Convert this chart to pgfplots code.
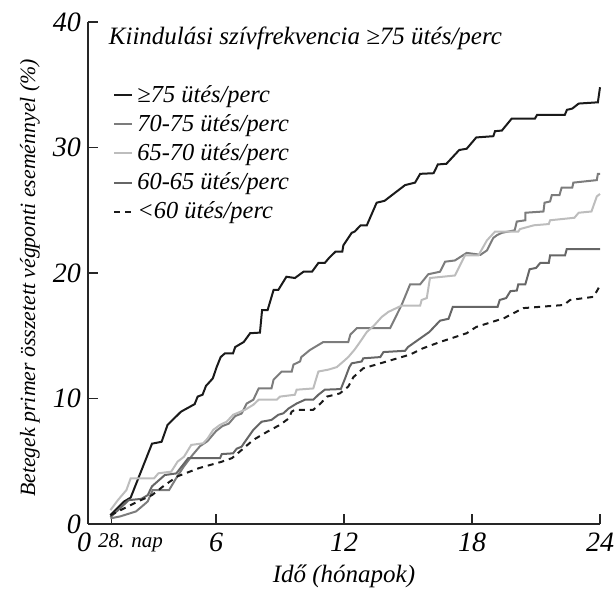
\documentclass[border=0pt]{standalone}
\usepackage{fontspec}
\setmainfont{Liberation Serif}
\usepackage{pgfplots}
\pgfplotsset{compat=1.18}

\definecolor{cA}{HTML}{1A1A1A}
\definecolor{cB}{HTML}{7C7C7C}
\definecolor{cC}{HTML}{BDBDBD}
\definecolor{cD}{HTML}{666666}

\begin{document}
\begin{tikzpicture}
\begin{axis}[
    scale only axis,
    width=256pt, height=251pt,
    xmin=0, xmax=24, ymin=0, ymax=40,
    axis x line=bottom, axis y line=left,
    axis line style={-, line width=0.8pt, black!85},
    tick align=inside,
    major tick length=5pt,
    tick style={line width=0.7pt, black!85},
    xtick={0,1.1,6,12,18,24},
    xticklabels={\hspace*{-4pt}0,{\hspace*{19pt}\fontsize{10.5}{10.5}\selectfont 28. nap},6,12,18,24},
    ytick={0,10,20,30,40},
    /pgf/number format/assume math mode=true,
    ticklabel style={font=\fontsize{14}{14}\selectfont\itshape},
    xticklabel style={yshift=-1pt},
    yticklabel style={xshift=0pt},
    xlabel={Idő (hónapok)},
    ylabel={Betegek primer összetett végponti eseménnyel (\%)},
    label style={font=\fontsize{12.5}{12.5}\selectfont\itshape},
    xlabel style={at={(rel axis cs:0.5,0)}, anchor=center, yshift=-26pt},
    ylabel style={at={(rel axis cs:0,0.49)}, anchor=center, yshift=29pt, font=\fontsize{10.9}{10.9}\selectfont\itshape},
    clip=false,
    legend cell align=left,
    legend style={draw=none, fill=none, at={(rel axis cs:0.045,0.887)}, anchor=north west,
        font=\fontsize{12.2}{12.2}\selectfont\itshape, row sep=0.6pt, inner sep=1pt},
    legend image code/.code={\draw[#1] (0pt,0pt) -- (9pt,0pt);},
]
\coordinate (bl) at (rel axis cs:0,0);
\coordinate (tr) at (rel axis cs:1,1);
\node[anchor=west, font=\fontsize{12.5}{12.5}\selectfont\itshape, inner sep=0pt] at (rel axis cs:0.04,0.968) {Kiindulási szívfrekvencia ≥75 ütés/perc};

\addplot[cA, line width=1pt] coordinates {
(1.05,0.7)(1.7,1.8)(2.0,2.1)(3.0,6.4)(3.45,6.55)(3.73,7.9)(4.36,8.95)(5.0,9.55)(5.14,10.15)(5.37,10.3)(5.53,11.0)(5.85,11.6)(6.03,12.5)(6.22,13.3)(6.42,13.6)(6.8,13.6)(6.9,14.1)(7.3,14.5)(7.6,15.2)(8.06,15.25)(8.16,17.05)(8.42,17.05)(8.7,18.65)(8.92,18.65)(9.3,19.7)(9.7,19.6)(10.1,20.1)(10.5,20.1)(10.8,20.8)(11.1,20.8)(11.3,21.2)(11.6,21.7)(11.92,21.7)(11.97,22.2)(12.36,23.2)(12.5,23.3)(12.78,23.8)(13.07,23.8)(13.53,25.6)(13.9,25.75)(14.86,27.0)(15.33,27.2)(15.57,27.9)(16.2,27.95)(16.4,28.65)(16.8,28.7)(17.4,29.8)(17.75,29.9)(18.2,30.8)(19.0,30.9)(19.08,31.3)(19.4,31.35)(19.86,32.3)(20.95,32.3)(21.05,32.6)(22.35,32.6)(22.45,33.0)(22.7,33.1)(23.0,33.5)(23.9,33.6)(24.0,34.8)
};
\addlegendentry{≥75 ütés/perc}

\addplot[cB, line width=1pt] coordinates {
(1.05,0.45)(1.5,0.6)(2.25,1.0)(2.6,1.5)(2.8,1.8)(3.03,2.7)(3.8,2.7)(4.13,3.64)(4.5,4.6)(4.9,5.5)(5.25,6.2)(5.6,6.6)(6.0,7.4)(6.3,7.8)(6.6,8.0)(6.9,8.6)(7.2,8.8)(7.44,9.6)(7.75,9.9)(8.0,10.8)(8.6,10.8)(8.7,11.5)(9.08,12.15)(9.55,12.15)(9.63,12.7)(9.94,12.95)(10.0,13.3)(10.4,13.86)(11.03,14.5)(12.2,14.5)(12.3,15.1)(12.6,15.6)(14.16,15.6)(14.7,17.45)(15.1,19.1)(15.57,19.1)(15.95,19.9)(16.5,20.1)(16.74,20.9)(17.2,21.0)(17.75,21.6)(18.4,21.45)(18.7,21.8)(19.0,22.8)(19.16,23.0)(19.4,23.2)(20.0,23.4)(20.1,24.1)(20.5,24.2)(20.5,24.8)(21.35,24.9)(21.4,25.6)(21.66,25.7)(21.74,26.2)(22.1,26.2)(22.2,26.8)(22.7,26.8)(22.75,27.2)(23.85,27.4)(23.9,27.9)(24,27.9)
};
\addlegendentry{70-75 ütés/perc}

\addplot[cC, line width=1pt] coordinates {
(1.05,1.1)(1.4,1.9)(1.8,2.7)(2.0,3.64)(3.1,3.64)(3.3,4.04)(3.9,4.17)(4.2,4.97)(4.5,5.36)(4.84,6.3)(5.4,6.43)(5.6,6.8)(5.87,7.5)(6.19,7.9)(6.5,8.15)(6.8,8.7)(7.36,9.1)(7.75,9.5)(8.0,9.9)(8.85,9.9)(9.0,10.15)(9.7,10.3)(9.78,10.7)(10.56,10.8)(10.7,11.6)(10.8,12.15)(11.27,12.3)(11.66,12.5)(11.97,12.95)(12.2,13.3)(12.5,13.9)(12.75,14.5)(13.07,15.3)(13.4,15.8)(13.77,16.5)(14.08,16.9)(14.7,17.4)(15.57,17.4)(15.64,17.85)(15.88,18.0)(16.03,19.6)(17.2,19.8)(17.67,21.4)(18.3,21.4)(18.7,22.6)(19.08,23.3)(20.17,23.3)(20.25,23.5)(20.9,23.8)(21.6,23.9)(21.66,24.2)(22.8,24.4)(23.0,24.8)(23.6,24.9)(23.85,26.1)(24,26.3)
};
\addlegendentry{65-70 ütés/perc}

\addplot[cD, line width=1pt] coordinates {
(1.05,0.55)(1.6,1.4)(1.9,1.9)(2.5,2.0)(2.8,2.3)(3.0,3.0)(3.6,3.9)(4.14,4.03)(4.7,5.25)(6.19,5.25)(6.27,5.57)(6.8,5.63)(6.97,6.0)(7.2,6.16)(7.36,6.56)(7.75,7.5)(8.14,8.15)(8.6,8.29)(8.92,8.7)(9.16,8.82)(9.4,9.2)(9.78,9.6)(10.17,9.9)(10.56,9.9)(10.8,10.3)(11.1,10.7)(11.85,10.75)(12.05,11.6)(12.25,12.5)(12.36,12.8)(12.83,12.95)(12.9,13.2)(13.7,13.3)(13.85,13.7)(14.86,13.8)(15.0,14.1)(15.5,14.7)(16.0,15.3)(16.5,16.2)(16.9,16.35)(17.1,17.3)(19.2,17.3)(19.3,17.85)(19.6,18.0)(19.8,18.55)(20.1,18.6)(20.17,19.1)(20.5,19.1)(20.7,20.3)(21.0,20.4)(21.2,20.8)(21.6,20.8)(21.66,21.4)(22.36,21.4)(22.44,21.9)(24,21.9)
};
\addlegendentry{60-65 ütés/perc}

\addplot[cA, line width=1pt, dash pattern=on 3pt off 2.5pt] coordinates {
(1.05,0.7)(1.7,1.25)(2.35,1.8)(3.0,2.3)(3.6,3.1)(4.2,3.8)(5.2,4.45)(6.25,4.95)(6.75,5.25)(7.1,5.75)(7.75,6.7)(8.4,7.35)(9.0,7.9)(9.4,8.4)(9.55,8.95)(9.7,9.1)(10.56,9.1)(10.9,9.6)(11.2,10.15)(11.8,10.4)(12.2,10.95)(12.44,11.7)(12.9,12.4)(13.7,12.8)(14.3,13.1)(15.1,13.5)(15.7,14.0)(16.5,14.5)(17.75,15.2)(18.2,15.7)(19.5,16.4)(20.4,17.2)(22.3,17.45)(22.6,17.85)(23.7,18.1)(24,19.0)
};
\addlegendentry{<60 ütés/perc}
\end{axis}
\pgfresetboundingbox
\path ([shift={(-44pt,-32.5pt)}]bl) rectangle ([shift={(7pt,11pt)}]tr);
\end{tikzpicture}
\end{document}
